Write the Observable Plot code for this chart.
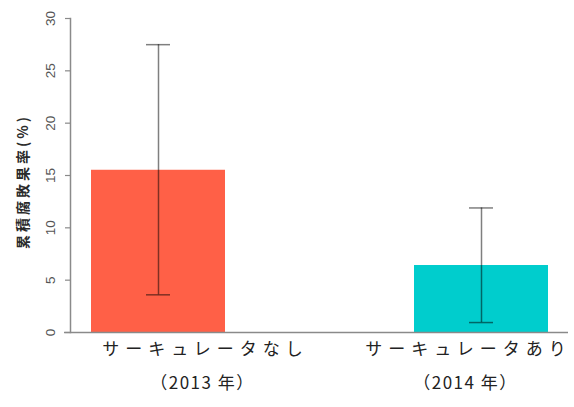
<!DOCTYPE html>
<html>
<head>
<meta charset="utf-8">
<script src="https://cdn.jsdelivr.net/npm/d3@7"></script>
<script src="https://cdn.jsdelivr.net/npm/@observablehq/plot@0.6"></script>
<style>
  html, body { margin: 0; padding: 0; background: #fff; }
  .xlab1 text { letter-spacing: 6px; }
  .xlab2 text { letter-spacing: 1.5px; }
  .ylab text { letter-spacing: 3px; }
</style>
</head>
<body>
<div id="chart"></div>
<script>
const categories = ["なし", "あり"];
const line1Labels = ["サーキュレータなし", "サーキュレータあり"];
const line2Labels = ["（2013 年）", "（2014 年）"];
const values = [15.5, 6.4];
const errLow = [3.6, 0.95];
const errHigh = [27.5, 11.9];
const colors = ["#FF6047", "#00CDCD"];
const yTicks = [0, 5, 10, 15, 20, 25, 30];
const yLabel = "累積腐敗果率(%)";
const labelShift = [44, -16];

const data = categories.map((c, i) => ({
  cat: c, value: values[i], lo: errLow[i], hi: errHigh[i],
  color: colors[i], l1: line1Labels[i], l2: line2Labels[i]
}));

const axisGray = "#8a8a8a";

const labelMarks = [];
data.forEach((d, i) => {
  labelMarks.push(Plot.text([d], {x: "cat", text: "l1", frameAnchor: "bottom", dy: 22, dx: labelShift[i] + 3,
    fontSize: 17, fill: "#222", fontFamily: "Noto Sans CJK JP", className: "xlab1"}));
  labelMarks.push(Plot.text([d], {x: "cat", text: "l2", frameAnchor: "bottom", dy: 56, dx: labelShift[i],
    fontSize: 17, fill: "#222", fontFamily: "Noto Sans CJK JP", className: "xlab2"}));
});

const chart = Plot.plot({
  width: 574,
  height: 407,
  marginLeft: 70,
  marginRight: 6,
  marginTop: 18,
  marginBottom: 75,
  style: {background: "#fff", fontFamily: "Liberation Sans, Arial, sans-serif"},
  x: {type: "band", domain: categories, paddingInner: 0.586, paddingOuter: 0.062, axis: null},
  y: {domain: [0, 30], axis: null},
  marks: [
    Plot.barY(data, {x: "cat", y: "value", fill: "color"}),
    Plot.ruleX(data, {x: "cat", y1: "lo", y2: "hi", stroke: "#000", strokeOpacity: 0.5, strokeWidth: 1.5}),
    Plot.tickY(data, {x: "cat", y: "lo", stroke: "#000", strokeOpacity: 0.5, strokeWidth: 1.5, insetLeft: 55, insetRight: 55}),
    Plot.tickY(data, {x: "cat", y: "hi", stroke: "#000", strokeOpacity: 0.5, strokeWidth: 1.5, insetLeft: 55, insetRight: 55}),
    Plot.ruleY([0], {stroke: axisGray, strokeWidth: 1.5, insetLeft: -6}),
    Plot.frame({anchor: "left", stroke: axisGray, strokeWidth: 1.5}),
    Plot.axisY(yTicks, {tickSize: 5, tickFormat: () => "", stroke: axisGray, strokeWidth: 1.2}),
    Plot.text(yTicks, {y: d => d, text: d => String(d), frameAnchor: "left", textAnchor: "middle",
      dx: -20, rotate: -90, fontSize: 13.5, fill: "#555"}),
    Plot.text([yLabel], {text: d => d, frameAnchor: "left", textAnchor: "middle", dx: -47, dy: 6, rotate: -90,
      fontSize: 14, fontWeight: "bold", fill: "#2a2a2a", fontFamily: "Noto Sans CJK JP", className: "ylab"}),
    ...labelMarks
  ]
});

document.getElementById("chart").appendChild(chart);
</script>
</body>
</html>
